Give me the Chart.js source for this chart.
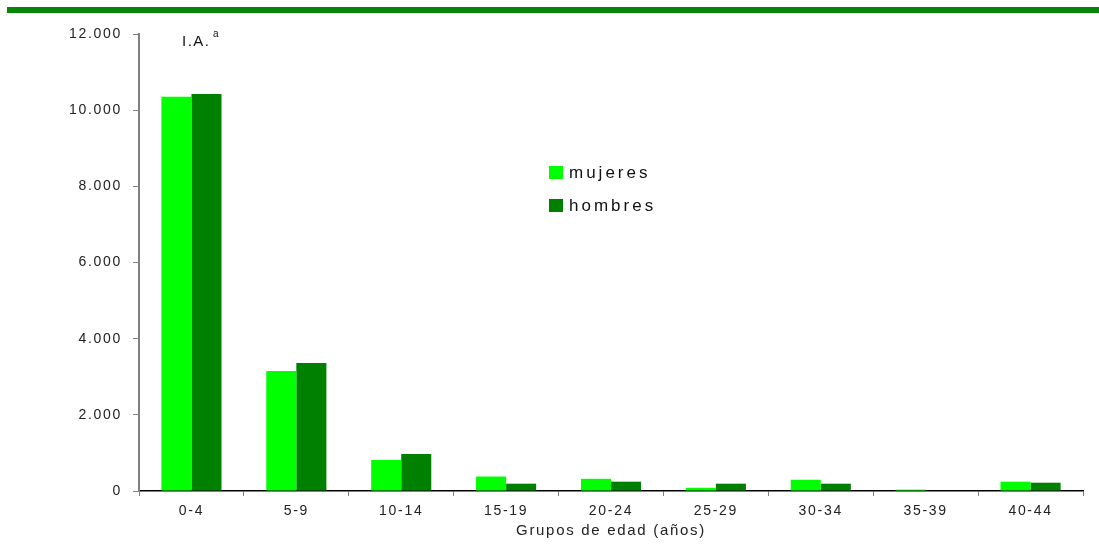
<!DOCTYPE html>
<html>
<head>
<meta charset="utf-8">
<script src="https://cdn.jsdelivr.net/npm/chart.js@4.4.0/dist/chart.umd.min.js"></script>
<style>
  html, body { margin: 0; padding: 0; background: #fff; }
  #wrap { position: relative; width: 1099px; height: 554px; }
  #topbar { position: absolute; left: 7px; top: 7px; width: 1092px; height: 6px; background: #058405; }
</style>
</head>
<body>
<div id="wrap">
  <div id="topbar"></div>
  <canvas id="barChart" width="1099" height="554"></canvas>
</div>
<script>
// Grupos de edad
const ageGroups = ['0-4', '5-9', '10-14', '15-19', '20-24', '25-29', '30-34', '35-39', '40-44'];
// I.A. por sexo
const mujeres = [10350, 3150, 815, 380, 320, 85, 295, 35, 245];
const hombres = [10425, 3360, 970, 192, 245, 192, 192, 0, 218];
const yTicks = [0, 2000, 4000, 6000, 8000, 10000, 12000];

document.addEventListener("DOMContentLoaded", function () {
    const ctx = document.getElementById('barChart').getContext('2d');
    const FONT = '"Liberation Sans", Arial, sans-serif';

    function fmt(v) {
        return v.toString().replace(/\B(?=(\d{3})+(?!\d))/g, '.');
    }

    // letter spacing like the original export
    const spacing = {
        id: 'spacing',
        beforeLayout(chart) { chart.ctx.letterSpacing = '1.7px'; },
        beforeDraw(chart) { chart.ctx.letterSpacing = '1.7px'; }
    };

    // legend + "I.A." label drawn at fixed spots of the plot
    const extras = {
        id: 'extras',
        afterDraw(chart) {
            const c = chart.ctx;
            c.save();
            c.letterSpacing = '3px';
            c.font = '17px ' + FONT;
            c.textBaseline = 'middle';
            chart.data.datasets.forEach((ds, i) => {
                const y = 172 + i * 33;
                c.fillStyle = ds.backgroundColor;
                c.fillRect(549, y - 6, 14, 13);
                c.fillStyle = '#111';
                c.fillText(ds.label, 569, y + 1);
            });
            c.letterSpacing = '1.5px';
            c.font = '15px ' + FONT;
            c.textBaseline = 'alphabetic';
            c.fillText('I.A.', 182, 46);
            c.font = '10px ' + FONT;
            c.fillText('a', 213, 37);
            c.restore();
        }
    };

    new Chart(ctx, {
        type: 'bar',
        data: {
            labels: ageGroups,
            datasets: [
                { label: 'mujeres', data: mujeres, backgroundColor: '#00ff00' },
                { label: 'hombres', data: hombres, backgroundColor: '#008000' }
            ]
        },
        options: {
            responsive: false,
            animation: false,
            layout: { padding: { top: 34, right: 16, left: 0, bottom: 14 } },
            datasets: { bar: { categoryPercentage: 0.573, barPercentage: 1.0 } },
            plugins: { legend: { display: false }, tooltip: { enabled: false } },
            scales: {
                x: {
                    offset: true,
                    grid: { offset: true, drawOnChartArea: false, tickLength: 5, color: '#808080' },
                    border: { color: '#000', width: 1.5 },
                    ticks: { color: '#222', padding: 7, font: { family: FONT, size: 14 } },
                    title: {
                        display: true, text: 'Grupos de edad (años)', color: '#222',
                        padding: { top: 0, bottom: 0 },
                        font: { family: FONT, size: 15 }
                    },
                    afterFit(scale) { scale.height = 49; }
                },
                y: {
                    min: 0, max: 12000,
                    afterBuildTicks(scale) { scale.ticks = yTicks.map(v => ({ value: v })); },
                    grid: { drawOnChartArea: false, tickLength: 6, color: '#808080' },
                    border: { color: '#808080', width: 2 },
                    ticks: {
                        color: '#222', padding: 11,
                        font: { family: FONT, size: 14 },
                        callback: v => fmt(v)
                    },
                    afterFit(scale) { scale.width = 139; }
                }
            }
        },
        plugins: [spacing, extras]
    });
});
</script>
</body>
</html>
